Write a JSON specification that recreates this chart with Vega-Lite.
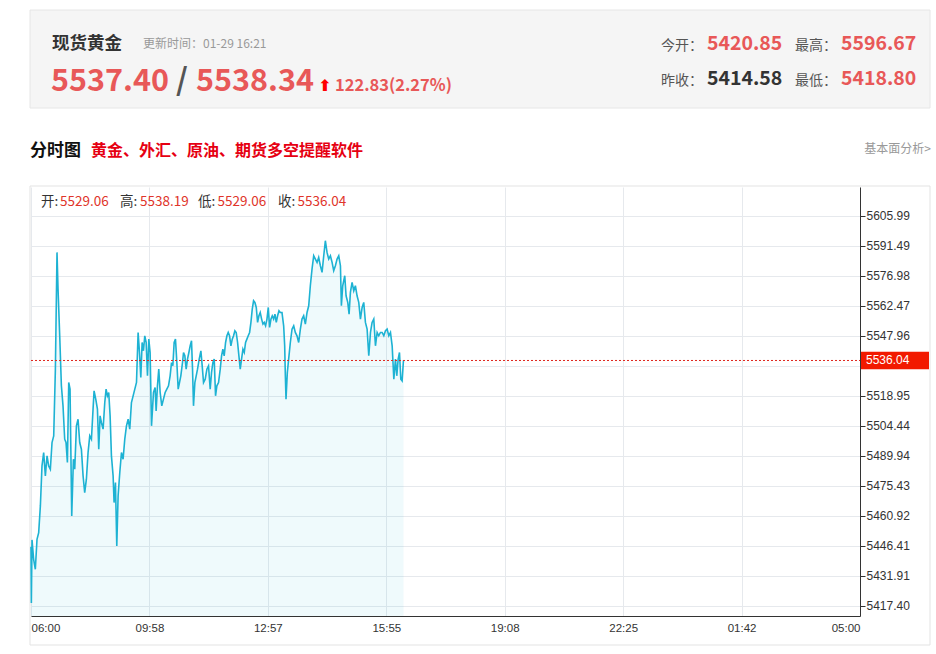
{
  "$schema": "https://vega.github.io/schema/vega-lite/v6.json",
  "width": 829,
  "height": 429,
  "autosize": {"type": "none"},
  "padding": {"left": 31, "top": 187, "right": 76, "bottom": 38},
  "background": "#ffffff",
  "config": {"view": {"stroke": null}, "font": "Noto Sans CJK SC", "text": {"font": "Noto Sans CJK SC", "align": "left", "baseline": "alphabetic"}},
  "datasets": {
    "price": [
      {"t":0,"v":5446.0},{"t":0.6,"v":5418.8},{"t":1.7,"v":5449.32},{"t":4.4,"v":5439.97},{"t":7.2,"v":5435.14},{"t":10,"v":5449.64},{"t":12.8,"v":5452.87},{"t":15.6,"v":5465.76},{"t":18.3,"v":5485.10},{"t":21.1,"v":5491.55},{"t":23.9,"v":5480.27},{"t":26.7,"v":5489.94},{"t":29.4,"v":5485.10},{"t":32.2,"v":5483.49},{"t":35,"v":5496.39},{"t":37.8,"v":5499.61},{"t":40.6,"v":5531.85},{"t":43.3,"v":5588.27},{"t":45,"v":5570.54},{"t":47.8,"v":5547.97},{"t":50.6,"v":5523.79},{"t":53.3,"v":5514.12},{"t":56.1,"v":5498.00},{"t":58.3,"v":5496.39},{"t":60.6,"v":5486.72},{"t":62.8,"v":5525.40},{"t":65,"v":5522.18},{"t":67.8,"v":5460.93},{"t":70.6,"v":5488.33},{"t":72.8,"v":5483.49},{"t":75.6,"v":5504.45},{"t":78.3,"v":5507.67},{"t":81.1,"v":5496.39},{"t":83.9,"v":5493.16},{"t":86.7,"v":5480.27},{"t":89.4,"v":5472.21},{"t":92.2,"v":5478.66},{"t":95,"v":5491.55},{"t":97.8,"v":5499.61},{"t":100.6,"v":5498.00},{"t":103.3,"v":5512.51},{"t":105,"v":5521.37},{"t":107.8,"v":5517.34},{"t":110.6,"v":5512.51},{"t":112.8,"v":5493.16},{"t":115,"v":5509.28},{"t":117.2,"v":5506.06},{"t":120,"v":5502.84},{"t":122.8,"v":5515.73},{"t":125,"v":5522.18},{"t":127.2,"v":5518.95},{"t":129.4,"v":5520.57},{"t":131.7,"v":5509.28},{"t":133.9,"v":5489.94},{"t":136.7,"v":5480.27},{"t":138.3,"v":5467.37},{"t":140.6,"v":5477.05},{"t":142.8,"v":5446.42},{"t":145,"v":5470.60},{"t":147.8,"v":5481.88},{"t":150.6,"v":5491.55},{"t":153.3,"v":5488.33},{"t":156.1,"v":5498.00},{"t":158.9,"v":5504.45},{"t":161.7,"v":5507.67},{"t":164.4,"v":5502.84},{"t":167.2,"v":5515.73},{"t":170,"v":5518.95},{"t":172.8,"v":5522.18},{"t":175.6,"v":5525.40},{"t":178.3,"v":5549.58},{"t":180.6,"v":5539.91},{"t":182.8,"v":5527.82},{"t":185,"v":5544.74},{"t":187.2,"v":5540.72},{"t":189.4,"v":5547.97},{"t":191.7,"v":5544.74},{"t":193.9,"v":5528.63},{"t":196.1,"v":5546.36},{"t":198.3,"v":5539.91},{"t":200.6,"v":5504.45},
      {"t":203.9,"v":5520.57},{"t":206.6,"v":5522.98},{"t":208.3,"v":5511.70},{"t":210.5,"v":5523.79},{"t":212.7,"v":5531.85},{"t":215,"v":5520.57},{"t":217.7,"v":5514.12},{"t":220.5,"v":5517.34},{"t":223.3,"v":5520.57},{"t":226.1,"v":5522.18},{"t":228.9,"v":5523.79},{"t":231.6,"v":5528.63},{"t":233.9,"v":5535.07},{"t":236.1,"v":5533.46},{"t":238.3,"v":5544.74},{"t":240.5,"v":5546.36},{"t":242.8,"v":5535.07},{"t":245,"v":5522.18},{"t":247.2,"v":5525.40},{"t":249.4,"v":5528.63},{"t":252.2,"v":5535.07},{"t":253.9,"v":5539.91},{"t":256.1,"v":5538.30},{"t":258.3,"v":5531.85},{"t":260.5,"v":5536.69},{"t":262.8,"v":5539.91},{"t":265,"v":5543.13},{"t":267.2,"v":5545.55},{"t":268.9,"v":5531.85},{"t":270.5,"v":5514.12},{"t":272.8,"v":5525.40},{"t":275,"v":5528.63},{"t":277.2,"v":5531.85},{"t":280,"v":5536.69},{"t":282.8,"v":5540.72},{"t":285,"v":5533.46},{"t":287.2,"v":5525.40},{"t":290,"v":5527.01},{"t":292.8,"v":5531.85},{"t":295.5,"v":5533.46},{"t":298.3,"v":5522.18},{"t":300.5,"v":5530.24},{"t":302.8,"v":5535.07},{"t":305,"v":5536.69},{"t":307.2,"v":5518.95},{"t":309.4,"v":5523.79},{"t":312.2,"v":5525.40},{"t":315,"v":5531.85},{"t":317.2,"v":5538.30},{"t":319.4,"v":5541.52},{"t":321.6,"v":5538.30},{"t":323.9,"v":5544.74},{"t":326.1,"v":5547.97},{"t":328.3,"v":5549.58},{"t":330.5,"v":5547.97},{"t":332.8,"v":5543.13},{"t":335,"v":5546.36},{"t":337.2,"v":5547.97},{"t":339.4,"v":5550.39},{"t":341.6,"v":5549.58},{"t":343.9,"v":5544.74},{"t":346.1,"v":5538.30},{"t":348.3,"v":5531.85},{"t":350.5,"v":5536.69},{"t":352.8,"v":5541.52},{"t":355,"v":5539.91},{"t":357.2,"v":5544.74},{"t":359.4,"v":5546.36},{"t":361.6,"v":5547.97},{"t":363.9,"v":5549.58},{"t":366.1,"v":5554.42},{"t":368.3,"v":5560.86},{"t":370.5,"v":5564.89},{"t":372.7,"v":5564.09},{"t":375,"v":5561.67},{"t":377.2,"v":5554.42},{"t":379.4,"v":5557.64},{"t":381.6,"v":5559.25},{"t":383.9,"v":5556.03},{"t":386.1,"v":5553.61},{"t":388.3,"v":5554.42},{"t":390.5,"v":5552.80},{"t":392.8,"v":5556.03},{"t":395,"v":5561.67},{"t":397.2,"v":5552.00},{"t":399.4,"v":5556.03},{"t":401.6,"v":5557.64},{"t":403.9,"v":5556.03},{"t":406.1,"v":5558.45},{"t":408.3,"v":5554.42},{"t":410.5,"v":5557.64},{"t":412.8,"v":5560.06},
      {"t":415,"v":5559.25},{"t":417.8,"v":5559.25},{"t":420.6,"v":5552.80},{"t":422.3,"v":5543.13},{"t":423.4,"v":5528.63},{"t":424.5,"v":5517.34},{"t":426.7,"v":5530.24},{"t":428.9,"v":5536.69},{"t":431.7,"v":5544.74},{"t":434.5,"v":5551.19},{"t":437.3,"v":5552.80},{"t":440,"v":5549.58},{"t":442.8,"v":5547.97},{"t":445.6,"v":5544.74},{"t":448.4,"v":5551.19},{"t":451.1,"v":5556.03},{"t":453.9,"v":5557.64},{"t":456.7,"v":5553.61},{"t":459.5,"v":5559.25},{"t":462.3,"v":5562.48},{"t":465,"v":5572.15},{"t":467.8,"v":5580.21},{"t":470.6,"v":5586.65},{"t":473.4,"v":5585.04},{"t":476.2,"v":5583.43},{"t":478.9,"v":5585.85},{"t":481.7,"v":5581.82},{"t":484.5,"v":5578.59},{"t":487.3,"v":5586.65},{"t":490,"v":5593.91},{"t":492.8,"v":5588.27},{"t":495.6,"v":5585.04},{"t":498.4,"v":5586.65},{"t":501.2,"v":5583.43},{"t":503.9,"v":5579.40},{"t":506.7,"v":5581.82},{"t":509.5,"v":5585.04},{"t":512.3,"v":5586.65},{"t":515.1,"v":5581.82},{"t":516.7,"v":5562.48},{"t":518.9,"v":5572.15},{"t":522.3,"v":5576.98},{"t":524.5,"v":5567.31},{"t":527.3,"v":5564.09},{"t":529.5,"v":5558.45},{"t":531.7,"v":5568.92},{"t":534.5,"v":5573.76},{"t":537.3,"v":5569.73},{"t":540,"v":5572.15},{"t":542.8,"v":5567.31},{"t":545.6,"v":5564.09},{"t":548.4,"v":5556.03},{"t":551.2,"v":5561.67},{"t":553.9,"v":5564.09},{"t":556.7,"v":5554.42},{"t":559.5,"v":5551.19},{"t":562.3,"v":5538.30},{"t":565.1,"v":5549.58},{"t":567.8,"v":5554.42},{"t":570.6,"v":5556.03},{"t":573.4,"v":5543.13},{"t":576.2,"v":5549.58},{"t":578.9,"v":5547.97},{"t":581.7,"v":5549.58},{"t":584.5,"v":5549.58},{"t":587.3,"v":5547.97},{"t":590.1,"v":5550.39},{"t":592.8,"v":5551.19},{"t":595.6,"v":5547.97},{"t":598.4,"v":5549.58},{"t":601.2,"v":5543.13},{"t":604,"v":5527.01},{"t":606.7,"v":5536.69},{"t":608.9,"v":5528.63},{"t":611.2,"v":5536.69},{"t":613.4,"v":5539.91},{"t":615.6,"v":5527.01},{"t":617.8,"v":5526.21},{"t":620,"v":5536.04}
    ],
    "last": [{"v": 5536.04}]
  },
  "layer": [
    {"data": {"values": [{}]}, "mark": {"type": "rect", "x": -1, "x2": 899, "y": -177, "y2": -79, "fill": "#f5f5f5", "stroke": "#e6e6e6", "strokeWidth": 1}, "encoding": {}},
    {"data": {"values": [{}]}, "mark": {"type": "rect", "x": -1, "x2": 899, "y": -1, "y2": 458, "fill": null, "stroke": "#e3e3e3", "strokeWidth": 1}, "encoding": {}},
    {"data": {"values": [{}]}, "mark": {"type": "rule", "x": -1, "x2": 899, "y": -17, "y2": -17, "stroke": "#cccccc", "strokeWidth": 1}, "encoding": {}},
    {"data": {"values": [{}]}, "mark": {"type": "rule", "x": 829, "x2": 829, "y": 429, "y2": 458, "stroke": "#333333", "strokeWidth": 1}, "encoding": {}},
    {
      "data": {"name": "price"},
      "mark": {"type": "area", "color": "#18b4d2", "fillOpacity": 0.07, "clip": true},
      "encoding": {
        "x": {"field": "t", "type": "quantitative", "scale": {"domain": [0, 1380], "nice": false, "zero": false},
          "axis": {"values": [0, 197.142857, 394.285714, 591.428571, 788.571429, 985.714286, 1182.857143, 1380],
            "tickCount": 20,
            "labelExpr": "['06:00','09:58','12:57','15:55','19:08','22:25','01:42','05:00'][round(datum.value/197.142857)]",
            "title": null, "grid": true, "gridColor": "#e6e9ed", "domainColor": "#333333", "ticks": false,
            "labelFlush": true, "labelFont": "Liberation Sans", "labelFontSize": 11.5, "labelColor": "#333333", "labelPadding": 6}},
        "y": {"field": "v", "type": "quantitative", "scale": {"domain": [5412.56, 5619.87], "nice": false, "zero": false},
          "axis": {"orient": "right", "values": [5417.40, 5431.91, 5446.41, 5460.92, 5475.43, 5489.94, 5504.44, 5518.95, 5533.45, 5547.96, 5562.47, 5576.98, 5591.49, 5605.99],
            "tickCount": 30,
            "labelExpr": "abs(datum.value - 5533.45) < 0.01 ? '' : format(datum.value, '.2f')",
            "labelOverlap": false,
            "title": null, "grid": true, "gridColor": "#e6e9ed", "domainColor": "#333333", "tickColor": "#333333",
            "tickSize": 5, "labelPadding": 1, "labelFont": "Liberation Sans", "labelFontSize": 12, "labelColor": "#333333"}}
      }
    },
    {
      "data": {"name": "price"},
      "mark": {"type": "line", "color": "#1db2d3", "strokeWidth": 1.6},
      "encoding": {"x": {"field": "t", "type": "quantitative"}, "y": {"field": "v", "type": "quantitative"}}
    },
    {
      "data": {"name": "last"},
      "mark": {"type": "rule", "x": 0, "x2": 829, "color": "#e0261c", "strokeWidth": 1, "strokeDash": [2, 2]},
      "encoding": {"y": {"field": "v", "type": "quantitative"}}
    },
    {
      "data": {"name": "last"},
      "mark": {"type": "rule", "x": 830, "x2": 898, "color": "#f21a00", "strokeWidth": 17.5},
      "encoding": {"y": {"field": "v", "type": "quantitative"}}
    },
    {
      "data": {"name": "last"},
      "mark": {"type": "text", "x": 835, "baseline": "middle", "font": "Liberation Sans", "fontSize": 12, "color": "#ffffff"},
      "encoding": {"y": {"field": "v", "type": "quantitative"}, "text": {"field": "v", "type": "quantitative", "format": ".2f"}}
    },
    {"data": {"values": [{}]}, "mark": {"type": "text", "text": "开:", "x": 10, "y": 19, "fontSize": 13.5, "color": "#333333"}, "encoding": {}},
    {"data": {"values": [{}]}, "mark": {"type": "text", "text": "5529.06", "x": 29, "y": 19, "fontSize": 13.5, "color": "#e0342a"}, "encoding": {}},
    {"data": {"values": [{}]}, "mark": {"type": "text", "text": "高:", "x": 89, "y": 19, "fontSize": 13.5, "color": "#333333"}, "encoding": {}},
    {"data": {"values": [{}]}, "mark": {"type": "text", "text": "5538.19", "x": 109, "y": 19, "fontSize": 13.5, "color": "#e0342a"}, "encoding": {}},
    {"data": {"values": [{}]}, "mark": {"type": "text", "text": "低:", "x": 167, "y": 19, "fontSize": 13.5, "color": "#333333"}, "encoding": {}},
    {"data": {"values": [{}]}, "mark": {"type": "text", "text": "5529.06", "x": 186.5, "y": 19, "fontSize": 13.5, "color": "#e0342a"}, "encoding": {}},
    {"data": {"values": [{}]}, "mark": {"type": "text", "text": "收:", "x": 247, "y": 19, "fontSize": 13.5, "color": "#333333"}, "encoding": {}},
    {"data": {"values": [{}]}, "mark": {"type": "text", "text": "5536.04", "x": 266.5, "y": 19, "fontSize": 13.5, "color": "#e0342a"}, "encoding": {}},
    {"data": {"values": [{}]}, "mark": {"type": "text", "text": "现货黄金", "x": 21, "y": -138.5, "fontSize": 17.5, "fontWeight": "bold", "color": "#333333"}, "encoding": {}},
    {"data": {"values": [{}]}, "mark": {"type": "text", "text": "更新时间：01-29 16:21", "x": 112, "y": -139, "fontSize": 12, "color": "#999999"}, "encoding": {}},
    {"data": {"values": [{}]}, "mark": {"type": "text", "text": "5537.40", "x": 20, "y": -96, "fontSize": 30.5, "fontWeight": "bold", "color": "#e85858"}, "encoding": {}},
    {"data": {"values": [{}]}, "mark": {"type": "text", "text": "/", "x": 145, "y": -96, "fontSize": 30.5, "fontWeight": "bold", "color": "#555555"}, "encoding": {}},
    {"data": {"values": [{}]}, "mark": {"type": "text", "text": "5538.34", "x": 165, "y": -96, "fontSize": 30.5, "fontWeight": "bold", "color": "#e85858"}, "encoding": {}},
    {"data": {"values": [{}]}, "mark": {"type": "text", "text": "⬆", "x": 287, "y": -96, "font": "DejaVu Sans", "fontSize": 16, "fontWeight": "bold", "color": "#ff0000"}, "encoding": {}},
    {"data": {"values": [{}]}, "mark": {"type": "text", "text": "122.83(2.27%)", "x": 304, "y": -96, "fontSize": 16.5, "fontWeight": "bold", "color": "#e85858"}, "encoding": {}},
    {"data": {"values": [{}]}, "mark": {"type": "text", "text": "今开：", "x": 630, "y": -137, "fontSize": 14, "color": "#555555"}, "encoding": {}},
    {"data": {"values": [{}]}, "mark": {"type": "text", "text": "5420.85", "x": 676, "y": -137, "fontSize": 19.5, "fontWeight": "bold", "color": "#e85858"}, "encoding": {}},
    {"data": {"values": [{}]}, "mark": {"type": "text", "text": "最高：", "x": 764, "y": -137, "fontSize": 14, "color": "#555555"}, "encoding": {}},
    {"data": {"values": [{}]}, "mark": {"type": "text", "text": "5596.67", "x": 810, "y": -137, "fontSize": 19.5, "fontWeight": "bold", "color": "#e85858"}, "encoding": {}},
    {"data": {"values": [{}]}, "mark": {"type": "text", "text": "昨收：", "x": 630, "y": -102, "fontSize": 14, "color": "#555555"}, "encoding": {}},
    {"data": {"values": [{}]}, "mark": {"type": "text", "text": "5414.58", "x": 676, "y": -102, "fontSize": 19.5, "fontWeight": "bold", "color": "#333333"}, "encoding": {}},
    {"data": {"values": [{}]}, "mark": {"type": "text", "text": "最低：", "x": 764, "y": -102, "fontSize": 14, "color": "#555555"}, "encoding": {}},
    {"data": {"values": [{}]}, "mark": {"type": "text", "text": "5418.80", "x": 810, "y": -102, "fontSize": 19.5, "fontWeight": "bold", "color": "#e85858"}, "encoding": {}},
    {"data": {"values": [{}]}, "mark": {"type": "text", "text": "分时图", "x": -1, "y": -31, "fontSize": 17, "fontWeight": "bold", "color": "#111111"}, "encoding": {}},
    {"data": {"values": [{}]}, "mark": {"type": "text", "text": "黄金、外汇、原油、期货多空提醒软件", "x": 60, "y": -31, "fontSize": 16, "fontWeight": "bold", "color": "#e60012"}, "encoding": {}},
    {"data": {"values": [{}]}, "mark": {"type": "text", "text": "基本面分析>", "x": 900, "y": -34, "align": "right", "fontSize": 12, "color": "#999999"}, "encoding": {}}
  ]
}
